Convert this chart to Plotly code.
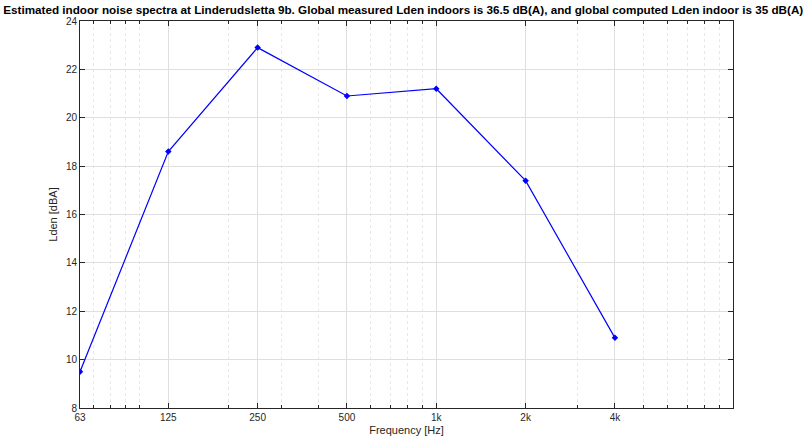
import plotly.graph_objects as go
import numpy as np

freqs = [63, 125, 250, 500, 1000, 2000, 4000]
lden = [9.5, 18.6, 22.9, 20.9, 21.2, 17.4, 10.9]
tick_labels = ["63", "125", "250", "500", "1k", "2k", "4k"]
minor_vals = [70, 80, 90, 100, 200, 300, 400, 600, 700, 800, 900, 3000,
              5000, 6000, 7000, 8000, 9000]

FONT = "Liberation Sans, Arial, Helvetica, sans-serif"
AX = "#262626"

fig = go.Figure()
fig.add_trace(go.Scatter(
    x=freqs, y=lden, mode="lines+markers",
    line=dict(color="#0000ff", width=1.2),
    marker=dict(symbol="diamond", size=5, color="#0000ff"),
    showlegend=False,
))

fig.update_layout(
    width=804, height=447,
    margin=dict(l=80, r=71, t=21, b=39, autoexpand=False),
    paper_bgcolor="white", plot_bgcolor="white",
    font=dict(family=FONT, size=10, color=AX),
    title=dict(
        text="Estimated indoor noise spectra at Linderudsletta 9b. Global measured Lden indoors is 36.5 dB(A), and global computed Lden indoor is 35 dB(A)",
        font=dict(family=FONT, size=11.7, color="black", weight="bold"),
        x=0.495, xanchor="center", xref="paper",
        y=1 - 10 / 447, yanchor="middle", yref="container",
        automargin=False,
    ),
    xaxis=dict(
        type="log", automargin=False,
        range=[np.log10(63), np.log10(10000)],
        tickmode="array", tickvals=freqs, ticktext=tick_labels,
        ticks="inside", ticklen=5, tickcolor=AX, tickwidth=1,
        showline=True, linecolor=AX, linewidth=1, mirror="ticks",
        showgrid=True, gridcolor="#dfdfdf", gridwidth=1,
        zeroline=False,
        minor=dict(tickmode="array", tickvals=minor_vals, ticks="inside",
                   ticklen=3, tickcolor=AX, showgrid=True,
                   gridcolor="#e8e8e8", griddash="dot", gridwidth=1),
        title=dict(text="Frequency [Hz]", font=dict(size=11, color=AX), standoff=4),
        tickfont=dict(size=10, color=AX),
    ),
    yaxis=dict(
        automargin=False,
        range=[8, 24], dtick=2, tick0=8,
        ticks="inside", ticklen=5, tickcolor=AX, tickwidth=1,
        showline=True, linecolor=AX, linewidth=1, mirror="ticks",
        showgrid=True, gridcolor="#dfdfdf", gridwidth=1,
        zeroline=False,
        title=dict(text="Lden [dBA]", font=dict(size=11, color=AX), standoff=6),
        tickfont=dict(size=10, color=AX),
    ),
)

fig.write_html("out.html", config={"displayModeBar": False},
               post_script="document.body.style.margin='0';")
